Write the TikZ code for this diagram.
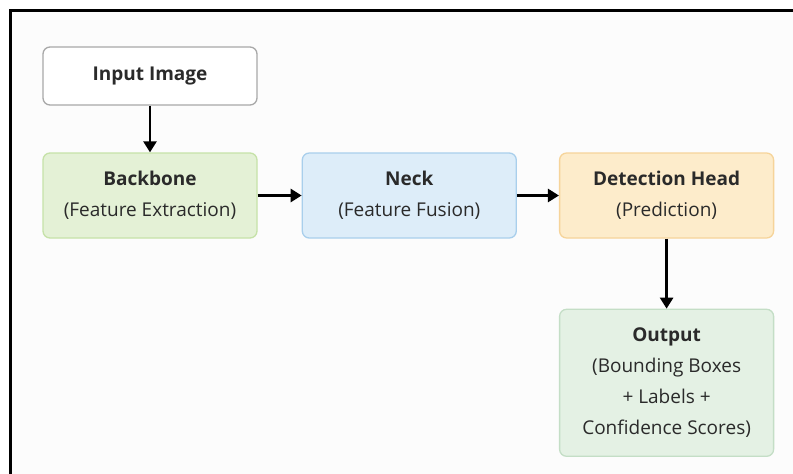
\documentclass[tikz,border=0pt]{standalone}
\usepackage{fontspec}
\setmainfont{Open Sans}
\usetikzlibrary{arrows.meta,positioning}

\definecolor{pagebg}{HTML}{FCFCFC}
\definecolor{txt}{HTML}{2A2A2A}
\definecolor{inputfill}{HTML}{FFFFFF}
\definecolor{inputline}{HTML}{A8A8A8}
\definecolor{bbfill}{HTML}{E4F1D6}
\definecolor{bbline}{HTML}{C6E2A8}
\definecolor{neckfill}{HTML}{DDEDF9}
\definecolor{neckline}{HTML}{A9CFEC}
\definecolor{headfill}{HTML}{FDECCB}
\definecolor{headline}{HTML}{F6D49A}
\definecolor{outfill}{HTML}{E4F1E4}
\definecolor{outline}{HTML}{C4DEC6}

\tikzset{
  block/.style={draw, rounded corners=7pt, line width=1.3pt, minimum width=214pt,
    minimum height=85pt, align=center, text=txt, font=\fontsize{19}{31}\selectfont,
    inner sep=2pt},
  flow/.style={line width=2.6pt, -{Triangle[length=11pt,width=13pt]}}
}

\begin{document}
\begin{tikzpicture}[x=1pt,y=-1pt]
\useasboundingbox (0,0) rectangle (793,474);
\fill[pagebg] (10,10) rectangle (793,474);
\draw[line width=3pt] (10,474) -- (10,10) -- (793,10);

\node[block, fill=inputfill, draw=inputline, minimum height=58pt] (input) at (150,76) {\textbf{Input Image}};
\node[block, fill=bbfill, draw=bbline] (backbone) at (150,195.5) {\textbf{Backbone}\\(Feature Extraction)};
\node[block, fill=neckfill, draw=neckline] (neck) [right=44pt of backbone] {\textbf{Neck}\\(Feature Fusion)};
\node[block, fill=headfill, draw=headline] (head) [right=42pt of neck] {\textbf{Detection Head}\\(Prediction)};
\node[block, fill=outfill, draw=outline, minimum height=147pt] (output) [below=70pt of head]
  {\textbf{Output}\\(Bounding Boxes\\+ Labels +\\Confidence Scores)};

\draw[flow] (input) -- (backbone);
\draw[flow] (backbone) -- (neck);
\draw[flow] (neck) -- (head);
\draw[flow] (head) -- (output);
\end{tikzpicture}
\end{document}
